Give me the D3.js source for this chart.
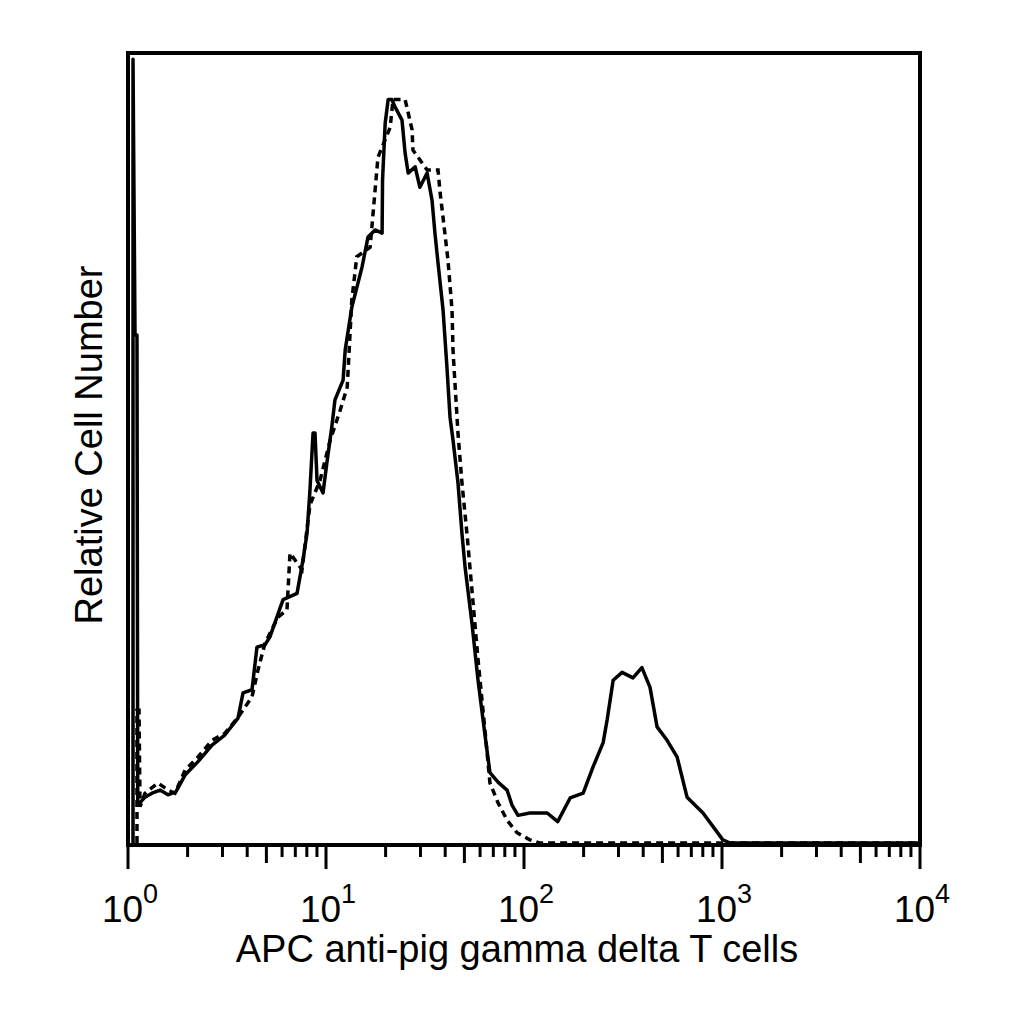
<!DOCTYPE html>
<html>
<head>
<meta charset="utf-8">
<script src="https://cdn.jsdelivr.net/npm/d3@7"></script>
<style>
    html, body { margin: 0; padding: 0; background: #fff; }
    svg { display: block; }
    text { font-family: "Liberation Sans", Arial, sans-serif; fill: #000; }
</style>
</head>
<body>
<svg id="chart" width="1024" height="1024"></svg>
<script>
// stained sample (solid line): fluorescence intensity vs relative count
const stainedX = [1.06, 1.06, 1.085, 1.11, 1.12, 1.219, 1.322, 1.451, 1.592, 1.747,
    1.941, 2.257, 2.657, 3.09, 3.594, 3.81, 4.23, 4.48, 4.92, 5.21,
    6.07, 7.14, 7.65, 8.02, 8.30, 8.60, 8.80, 9.01, 9.66, 10.1,
    10.7, 11.1, 12.2, 12.5, 13.5, 15.2, 16.3, 17.7, 19.2, 19.3,
    19.9, 20.6, 21.5, 22.3, 24.2, 25.1, 26.0, 28.2, 29.8, 32.4,
    34.3, 35.5, 36.8, 39.0, 40.8, 42.3, 43.8, 46.4, 48.6, 50.4,
    54.6, 58.6, 63.5, 67.3, 73.9, 82.1, 87.0, 93.3, 107, 131,
    148, 171, 199, 223, 251, 263, 282, 313, 355, 394,
    433, 470, 528, 593, 666, 802, 1010, 1100, 10000];
const stainedY = [0, 99.2, 64.3, 64.3, 4.8, 5.8, 6.3, 6.7, 6.1, 6.5,
    8.6, 10.3, 12.4, 13.7, 15.8, 19.0, 19.4, 24.8, 25.1, 26.1,
    30.8, 31.6, 35.8, 39.2, 44.7, 51.9, 51.9, 45.9, 44.3, 48.1,
    52.7, 56.1, 58.6, 62.4, 67.8, 72.9, 76.7, 77.6, 77.2, 83.9,
    91.1, 94.1, 94.1, 93.2, 91.5, 87.3, 84.8, 85.6, 83.0, 84.8,
    81.4, 77.2, 73.4, 67.5, 60.3, 53.9, 51.0, 45.6, 39.2, 34.9,
    27.8, 20.6, 13.7, 8.9, 7.7, 6.7, 4.8, 3.5, 3.8, 3.8,
    2.7, 5.7, 6.3, 9.6, 12.7, 15.6, 20.6, 21.6, 20.9, 22.2,
    19.7, 14.7, 13.0, 10.9, 5.8, 3.8, 0.4, 0, 0];

// isotype control (dashed line)
const controlX = [1.11, 1.11, 1.137, 1.15, 1.219, 1.417, 1.592, 1.727, 1.941, 2.257,
    2.657, 3.09, 3.594, 4.23, 4.535, 4.92, 5.724, 6.353, 6.579, 7.565,
    8.30, 9.33, 10.5, 11.8, 12.8, 13.5, 14.3, 16.7, 18.3, 21.1,
    21.8, 25.1, 27.2, 27.5, 32.4, 36.8, 37.7, 39.0, 41.3, 43.3,
    43.8, 44.8, 46.4, 48.6, 51.5, 54.6, 58.6, 63.5, 67.3, 73.9,
    82.1, 92.2, 107, 120, 10000];
const controlY = [0, 16.8, 16.8, 4.6, 6.3, 7.6, 6.7, 6.3, 9.2, 10.9,
    13.0, 13.9, 15.9, 18.5, 21.9, 25.3, 28.6, 29.5, 36.7, 34.6,
    42.8, 45.9, 51.0, 54.8, 57.7, 68.7, 74.2, 75.4, 86.8, 90.6,
    94.1, 94.1, 90.3, 87.7, 85.2, 85.2, 82.3, 79.2, 73.8, 67.5,
    62.4, 58.2, 51.9, 45.6, 39.2, 32.0, 23.2, 14.3, 7.6, 5.1,
    2.9, 1.3, 0.4, 0, 0];

const tickExponents = [0, 1, 2, 3, 4];
const superDigits = ["0", "1", "2", "3", "4"];

const xTitle = "APC anti-pig gamma delta T cells";
const yTitle = "Relative Cell Number";

const plot = { left: 128, right: 920, top: 53, bottom: 845 };

const svg = d3.select("#chart");

const x = d3.scaleLog()
    .domain([1, 10000])
    .range([plot.left, plot.right]);

const y = d3.scaleLinear()
    .domain([0, 100])
    .range([plot.bottom - 2, plot.top]);

drawTicks();
drawSeries();
drawFrame();
drawLabels();

function drawTicks() {
    const ticks = x.ticks();
    const g = svg.append("g");

    g.selectAll("line")
        .data(ticks)
        .join("line")
        .attr("x1", d => x(d))
        .attr("x2", d => x(d))
        .attr("y1", plot.bottom)
        .attr("y2", d => plot.bottom + tickLength(d))
        .attr("stroke", "#000")
        .attr("stroke-width", 3);
}

function tickLength(v) {
    const m = Math.round(v / Math.pow(10, Math.floor(Math.log10(v) + 1e-9)));
    if (m === 1) return 24;
    if (m === 5) return 18;
    return 12;
}

function drawSeries() {
    const line = d3.line()
        .x(d => x(d[0]))
        .y(d => y(d[1]));

    const stained = d3.zip(stainedX, stainedY);
    const control = d3.zip(controlX, controlY);

    svg.append("path")
        .attr("d", line(control))
        .attr("fill", "none")
        .attr("stroke", "#000")
        .attr("stroke-width", 3.5)
        .attr("stroke-dasharray", "7,5");

    svg.append("path")
        .attr("d", line(stained))
        .attr("fill", "none")
        .attr("stroke", "#000")
        .attr("stroke-width", 3.5)
        .attr("stroke-linejoin", "round");
}

function drawFrame() {
    svg.append("rect")
        .attr("x", plot.left)
        .attr("y", plot.top)
        .attr("width", plot.right - plot.left)
        .attr("height", plot.bottom - plot.top)
        .attr("fill", "none")
        .attr("stroke", "#000")
        .attr("stroke-width", 4);
}

function drawLabels() {
    const labels = svg.append("g");

    tickExponents.forEach((e, i) => {
        const t = labels.append("text")
            .attr("x", x(Math.pow(10, e)) + 2)
            .attr("y", 922)
            .attr("text-anchor", "middle")
            .style("font-size", "37px");
        t.append("tspan").text("10");
        t.append("tspan")
            .attr("dy", -19)
            .style("font-size", "27px")
            .text(superDigits[i]);
    });

    svg.append("text")
        .attr("x", (plot.left + plot.right) / 2 - 7)
        .attr("y", 962)
        .attr("text-anchor", "middle")
        .style("font-size", "38px")
        .text(xTitle);

    svg.append("text")
        .attr("transform", `translate(102, ${(plot.top + plot.bottom) / 2 - 4}) rotate(-90)`)
        .attr("text-anchor", "middle")
        .style("font-size", "38px")
        .text(yTitle);
}
</script>
</body>
</html>
